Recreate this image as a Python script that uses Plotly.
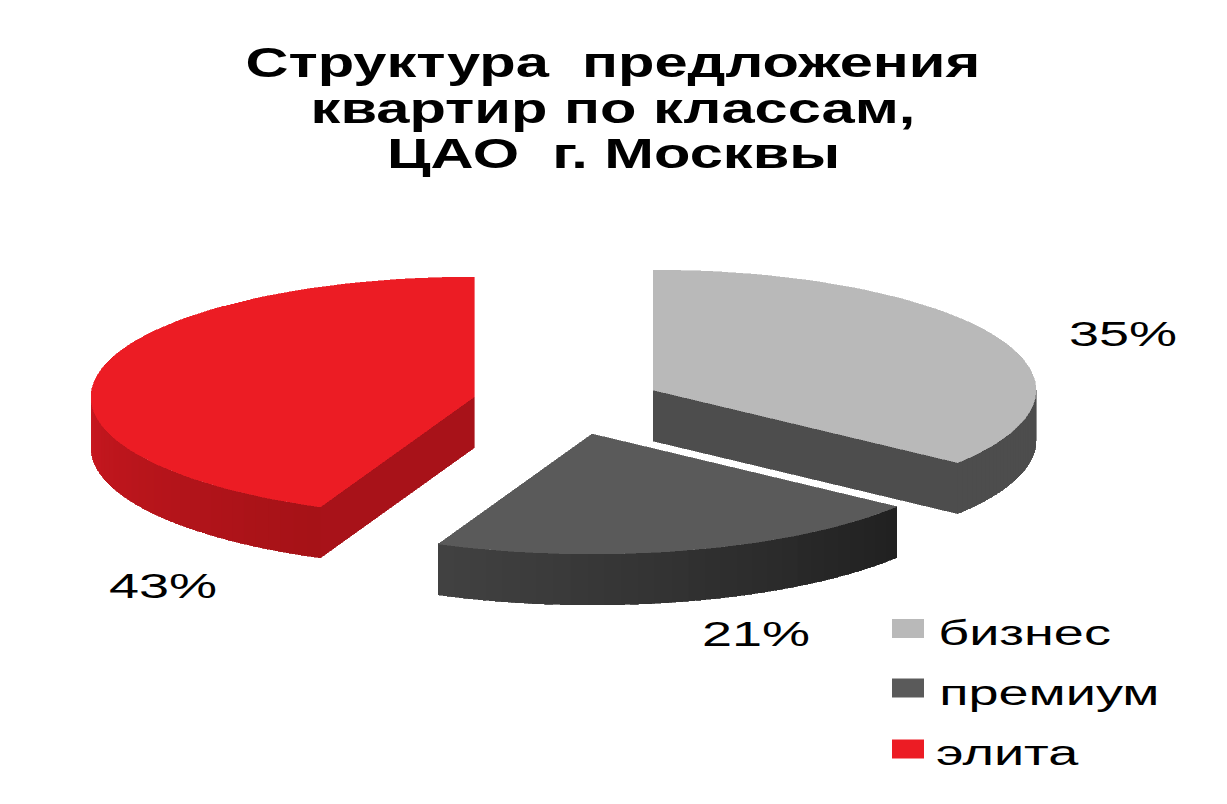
import math
import plotly.graph_objects as go

# --- data ---
categories = ["бизнес", "премиум", "элита"]
values = [35, 21, 43]
title_lines = ["Структура\u00a0\u00a0предложения", "квартир по классам,", "ЦАО\u00a0\u00a0г.\u00a0Москвы"]

# --- styles / layout ---
W, H = 1227, 804
RX, RY, DEPTH = 383, 120, 51
APEX = [(653, 390), (592, 434), (474, 397)]      # exploded slice tips
TOP = ["#b9b9b9", "#5a5a5a", "#ec1c24"]
RIM_A = [(77, 77, 77), (32, 32, 32), (165, 18, 23)]   # colour at start of the visible rim
RIM_B = [(77, 77, 77), (66, 66, 66), (200, 23, 31)]   # colour at end of the visible rim
CUT = ["#4d4d4d", None, "#a81219"]
LABEL_POS = [(1123, 333), (756, 633), (163, 585)]
LEGEND_Y = [628.5, 688, 749]
LEGEND_TEXT_X = [1024, 1049, 1008]
LEGEND_TEXT_Y = [632, 692, 752]
TITLE_Y = [62, 108, 153]
TITLE_SIZE, TEXT_SIZE = 42, 36
FONT = "Liberation Sans"

fig = go.Figure()


def point(apex, t, dy=0):
    return apex[0] + RX * math.sin(t), apex[1] - RY * math.cos(t) + dy


def poly(pts, color):
    xs = [p[0] for p in pts] + [pts[0][0]]
    ys = [p[1] for p in pts] + [pts[0][1]]
    fig.add_trace(go.Scatter(x=xs, y=ys, mode="lines", fill="toself", fillcolor=color,
                             line=dict(color=color, width=0.6), hoverinfo="skip", showlegend=False))


total = sum(values)
start = 0.0
for i, v in enumerate(values):
    a0 = start
    a1 = start + 2 * math.pi * v / total
    start = a1
    apex = APEX[i]

    # cut faces
    if CUT[i]:
        edge = a1 if i == 0 else a0
        e = point(apex, edge)
        poly([apex, e, (e[0], e[1] + DEPTH), (apex[0], apex[1] + DEPTH)], CUT[i])

    # visible outer rim, shaded piece by piece
    r0 = max(a0, math.pi / 2)
    r1 = min(a1, 3 * math.pi / 2)
    if r1 > r0:
        n = 30
        for k in range(n):
            t0 = r0 + (r1 - r0) * k / n
            t1 = r0 + (r1 - r0) * min(k + 1.5, n) / n
            f = (k + 0.5) / n
            c = tuple(round(RIM_A[i][j] + (RIM_B[i][j] - RIM_A[i][j]) * f) for j in range(3))
            color = "rgb(%d,%d,%d)" % c
            poly([point(apex, t0), point(apex, t1), point(apex, t1, DEPTH), point(apex, t0, DEPTH)], color)

    # top face
    m = 80
    pts = [apex] + [point(apex, a0 + (a1 - a0) * k / m) for k in range(m + 1)]
    poly(pts, TOP[i])

annotations = []
for line, y in zip(title_lines, TITLE_Y):
    annotations.append(dict(x=613, y=y, text=line, showarrow=False, xanchor="center", yanchor="middle",
                            font=dict(family=FONT, size=TITLE_SIZE, color="black", weight="bold")))
for v, (x, y) in zip(values, LABEL_POS):
    annotations.append(dict(x=x, y=y, text=f"{v}%", showarrow=False, xanchor="center", yanchor="middle",
                            font=dict(family=FONT, size=TEXT_SIZE, color="black")))
shapes = []
for name, color, x, y, sy in zip(categories, TOP, LEGEND_TEXT_X, LEGEND_TEXT_Y, LEGEND_Y):
    annotations.append(dict(x=x, y=y, text=name, showarrow=False, xanchor="center", yanchor="middle",
                            font=dict(family=FONT, size=TEXT_SIZE, color="black")))
    shapes.append(dict(type="rect", xref="x", yref="y", x0=892, x1=924, y0=sy - 9.5, y1=sy + 9.5,
                       fillcolor=color, line=dict(width=0)))

fig.update_layout(
    width=W, height=H, autosize=False,
    margin=dict(l=0, r=0, t=0, b=0),
    paper_bgcolor="white", plot_bgcolor="white",
    xaxis=dict(range=[0, W], visible=False, fixedrange=True),
    yaxis=dict(range=[H, 0], visible=False, fixedrange=True),
    annotations=annotations, shapes=shapes, showlegend=False,
)

# page flush with the window; the reference's lettering is stretched sideways and its edges are aliased
stretch_js = """
document.body.style.margin = '0';
document.querySelectorAll('.annotation-text').forEach(function(el){
  var fs = parseFloat(el.style.fontSize);
  var k = fs > 40 ? 1.42 : 1.5;
  var b = el.getBBox();
  var cx = b.x + b.width/2;
  el.setAttribute('transform','translate('+cx+',0) scale('+k+',1) translate('+(-cx)+',0)');
});
document.querySelectorAll('.scatterlayer path').forEach(function(el){
  el.style.shapeRendering = 'crispEdges';
});
"""
fig.write_html("out.html", post_script=stretch_js, config={"displayModeBar": False})
